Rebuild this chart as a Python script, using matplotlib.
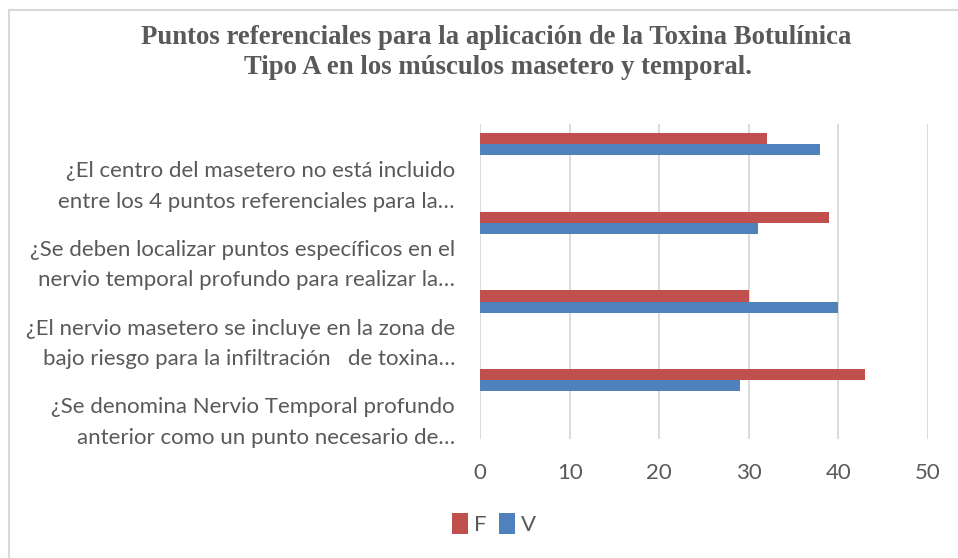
import numpy as np
import matplotlib
matplotlib.use("Agg")
import matplotlib.pyplot as plt
from matplotlib.patches import Rectangle

# data (categories listed bottom to top, as drawn)
categorias = [
    "¿Se denomina Nervio Temporal profundo\nanterior como un punto necesario de…",
    "¿El nervio masetero se incluye en la zona de\nbajo riesgo para la infiltración   de toxina…",
    "¿Se deben localizar puntos específicos en el\nnervio temporal profundo para realizar la…",
    "¿El centro del masetero no está incluido\nentre los 4 puntos referenciales para la…",
]
valores_f = [43, 30, 39, 32]
valores_v = [29, 40, 31, 38]
xticks = [0, 10, 20, 30, 40, 50]

rojo = "#C0504D"
azul = "#4F81BD"
gris = "#595959"

fig = plt.figure(figsize=(9.58, 5.58), dpi=100)
fig.patches.append(Rectangle((9 / 958, -0.1), 1.2, (1 - 10 / 558) + 0.1,
                             transform=fig.transFigure, fill=False,
                             edgecolor="#D9D9D9", linewidth=1.5))

ax = fig.add_axes([480 / 958, 1 - 439 / 558, 448 / 958, 315 / 558])
y = np.arange(len(categorias))
h = 0.14
ax.barh(y + 0.246 + h / 2, valores_f, height=h, color=rojo, label="F")
ax.barh(y + 0.246 - h / 2, valores_v, height=h, color=azul, label="V")

ax.set_xlim(0, 50)
ax.set_ylim(-0.5, len(categorias) - 0.5)
ax.set_xticks(xticks)
ax.set_xticklabels([str(t) for t in xticks], fontsize=16, color=gris,
                   family="Lato")
ax.set_yticks(y - 0.2)
ax.set_yticklabels(categorias, fontsize=16, color=gris, family="Lato",
                   linespacing=1.65)
ax.tick_params(axis="both", length=0)
ax.tick_params(axis="x", pad=17)
ax.tick_params(axis="y", pad=18)
ax.grid(axis="x", color="#D9D9D9", linewidth=1.3)
ax.set_axisbelow(True)
for s in ax.spines.values():
    s.set_visible(False)

fig.text(496 / 958, 1 - 37 / 558,
         "Puntos referenciales para la aplicación de la Toxina Botulínica",
         ha="center", va="center", fontsize=19.3, fontweight="bold",
         family="Liberation Serif", color=gris)
fig.text(498 / 958, 1 - 68 / 558,
         "Tipo A en los músculos masetero y temporal.",
         ha="center", va="center", fontsize=19.3, fontweight="bold",
         family="Liberation Serif", color=gris)

leg = fig.legend(loc="center", bbox_to_anchor=(494 / 958, 1 - 524 / 558),
                 ncol=2, frameon=False, handlelength=0.7, handleheight=1.05,
                 handletextpad=0.25, columnspacing=0.6,
                 prop={"family": "Lato", "size": 16})
for t in leg.get_texts():
    t.set_color(gris)

fig.savefig("out.png", dpi=100)
